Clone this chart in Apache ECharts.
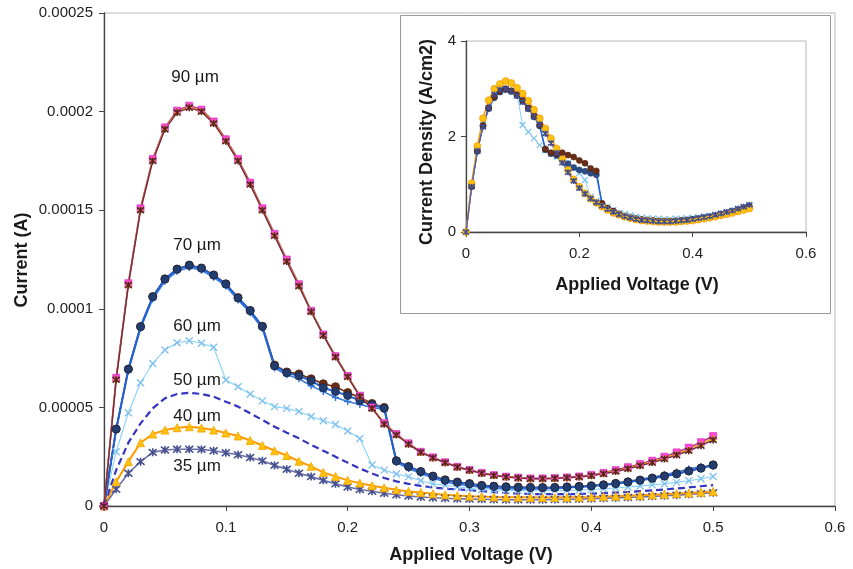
<!DOCTYPE html>
<html>
<head>
<meta charset="utf-8">
<script src="https://cdn.jsdelivr.net/npm/echarts/dist/echarts.min.js"></script>
<style>
html,body{margin:0;padding:0;background:#fff;}
#chart{width:853px;height:569px;}
</style>
</head>
<body>
<div id="chart"></div>
<script>
// ---------- data ----------
const volts = [0,0.01,0.02,0.03,0.04,0.05,0.06,0.07,0.08,0.09,0.10,0.11,0.12,0.13,0.14,0.15,0.16,0.17,0.18,0.19,0.20,0.21,0.22,0.23,0.24,0.25,0.26,0.27,0.28,0.29,0.30,0.31,0.32,0.33,0.34,0.35,0.36,0.37,0.38,0.39,0.40,0.41,0.42,0.43,0.44,0.45,0.46,0.47,0.48,0.49,0.50];

// main chart currents, in units of 1e-5 A
const i90a = [0,6.5,11.3,15.1,17.6,19.2,20.05,20.3,20.1,19.5,18.6,17.6,16.4,15.1,13.8,12.5,11.25,9.9,8.7,7.6,6.6,5.6,5.0,4.2,3.65,3.18,2.75,2.47,2.22,1.99,1.83,1.68,1.57,1.49,1.44,1.40,1.40,1.42,1.45,1.50,1.58,1.68,1.82,1.97,2.13,2.30,2.50,2.72,2.96,3.24,3.55];
const i90b = [0,6.4,11.2,15.0,17.5,19.1,19.95,20.2,20.0,19.4,18.5,17.5,16.3,15.0,13.7,12.4,11.15,9.85,8.65,7.55,6.55,5.55,4.95,4.15,3.6,3.13,2.72,2.44,2.19,1.97,1.81,1.66,1.55,1.47,1.42,1.38,1.38,1.40,1.43,1.47,1.54,1.63,1.75,1.89,2.04,2.2,2.38,2.58,2.8,3.06,3.35];
const i90c = [0,6.45,11.25,15.05,17.55,19.15,20.0,20.25,20.05,19.45,18.55,17.55,16.35,15.05,13.75,12.45,11.2,9.88,8.68,7.58,6.58,5.58,4.98,4.18,3.62,3.15,2.73,2.45,2.2,1.98,1.82,1.67,1.56,1.48,1.43,1.39,1.39,1.41,1.44,1.49,1.56,1.66,1.79,1.93,2.09,2.25,2.44,2.65,2.88,3.15,3.45];
const i70a = [0,3.9,6.93,9.09,10.6,11.5,12.0,12.2,12.05,11.7,11.25,10.55,9.9,9.1,7.1,6.75,6.6,6.35,6.0,5.8,5.6,5.35,5.15,4.95,2.28,1.99,1.74,1.5,1.3,1.2,1.12,1.03,0.99,0.96,0.94,0.93,0.92,0.93,0.95,0.98,1.01,1.06,1.13,1.21,1.3,1.4,1.51,1.62,1.77,1.91,2.07];
const i70b = [0,3.9,6.95,9.1,10.62,11.52,12.02,12.22,12.07,11.72,11.27,10.57,9.92,9.12,7.15,6.8,6.7,6.45,6.2,6.05,5.75,5.5,5.2,5.0,2.3,2.0,1.75,1.52,1.33,1.22,1.14,1.05,1.01,0.98,0.96,0.95,0.94,0.95,0.97,1.0,1.03,1.08,1.15,1.23,1.32,1.42,1.53,1.64,1.78,1.93,2.09];
const i70c = [0,3.85,6.85,9.0,10.5,11.4,11.9,12.1,11.95,11.6,11.15,10.45,9.8,9.0,7.0,6.65,6.45,6.1,5.8,5.5,5.3,5.15,5.0,4.9,2.2,1.9,1.65,1.42,1.22,1.1,1.02,0.95,0.9,0.88,0.87,0.86,0.87,0.89,0.92,0.96,1.01,1.08,1.16,1.25,1.35,1.46,1.58,1.72,1.87,2.0,2.02];
const i60 = [0,2.75,4.73,6.25,7.23,7.91,8.28,8.38,8.25,8.05,6.39,6.05,5.68,5.33,5.04,4.95,4.79,4.54,4.32,4.13,3.8,3.42,2.08,1.82,1.62,1.49,1.28,1.12,1.06,0.98,0.90,0.84,0.81,0.79,0.78,0.77,0.77,0.78,0.79,0.81,0.84,0.87,0.91,0.96,1.01,1.07,1.13,1.2,1.28,1.38,1.5];
const i50 = [0,1.82,3.21,4.19,4.95,5.46,5.68,5.74,5.68,5.54,5.29,5.04,4.7,4.36,4.02,3.72,3.43,3.1,2.8,2.5,2.2,1.9,1.65,1.42,1.25,1.12,1.02,0.94,0.88,0.84,0.80,0.75,0.70,0.66,0.63,0.61,0.60,0.60,0.60,0.61,0.63,0.65,0.68,0.71,0.75,0.79,0.84,0.89,0.94,1.0,1.06];
const i40 = [0,1.23,2.25,3.21,3.65,3.85,3.97,4.02,3.95,3.85,3.7,3.55,3.32,3.07,2.8,2.56,2.27,2.01,1.7,1.5,1.3,1.16,1.03,0.92,0.82,0.74,0.68,0.62,0.57,0.53,0.5,0.48,0.46,0.45,0.44,0.43,0.43,0.43,0.44,0.45,0.46,0.48,0.5,0.52,0.54,0.57,0.6,0.63,0.66,0.7,0.74];
const i35 = [0,0.85,1.66,2.25,2.72,2.84,2.88,2.88,2.87,2.8,2.7,2.6,2.46,2.29,2.06,1.86,1.66,1.49,1.3,1.13,0.96,0.84,0.75,0.65,0.57,0.51,0.46,0.42,0.39,0.37,0.35,0.34,0.33,0.32,0.32,0.32,0.32,0.33,0.34,0.35,0.37,0.39,0.41,0.43,0.46,0.49,0.52,0.55,0.59,0.63,0.67];

// inset current densities, A/cm2
const dA = [0,1.02,1.8,2.38,2.76,3.0,3.1,3.16,3.12,3.02,2.9,2.75,2.56,2.38,2.17,1.96,1.75,1.52,1.3,1.1,0.95,0.81,0.7,0.61,0.53,0.46,0.4,0.36,0.32,0.29,0.26,0.24,0.23,0.22,0.21,0.21,0.21,0.21,0.22,0.23,0.24,0.26,0.28,0.3,0.32,0.35,0.37,0.4,0.43,0.46,0.49];
const dB = [0,0.95,1.7,2.2,2.6,2.88,2.98,3.0,2.95,2.85,2.72,2.58,2.42,2.25,2.06,1.86,1.66,1.45,1.25,1.07,0.92,0.8,0.7,0.62,0.55,0.48,0.42,0.37,0.33,0.3,0.27,0.25,0.24,0.23,0.22,0.22,0.22,0.23,0.24,0.25,0.27,0.29,0.31,0.33,0.36,0.39,0.42,0.45,0.49,0.53,0.57];
const dC = [0,0.98,1.7,2.25,2.6,2.85,2.98,3.0,2.95,2.88,2.24,2.1,1.96,1.82,1.71,1.64,1.57,1.5,1.44,1.33,1.23,1.09,0.74,0.65,0.58,0.53,0.46,0.4,0.38,0.35,0.32,0.3,0.29,0.28,0.28,0.27,0.27,0.28,0.28,0.29,0.3,0.31,0.33,0.34,0.36,0.38,0.4,0.43,0.46,0.49,0.54];
const dD = [0,0.96,1.7,2.23,2.6,2.83,2.95,3.0,2.96,2.88,2.76,2.6,2.43,2.24,1.74,1.66,1.64,1.66,1.61,1.57,1.5,1.44,1.33,1.28,0.6,0.5,0.44,0.38,0.33,0.3,0.28,0.26,0.25,0.24,0.23,0.23,0.23,0.23,0.24,0.25,0.26,0.27,0.29,0.31,0.33,0.35,0.38,0.41,0.44,0.48,0.52];
const dE = [0,0.95,1.69,2.22,2.58,2.81,2.93,2.98,2.94,2.86,2.74,2.58,2.41,2.22,1.72,1.64,1.6,1.5,1.43,1.35,1.3,1.27,1.23,1.2,0.58,0.49,0.43,0.37,0.32,0.29,0.27,0.25,0.24,0.23,0.22,0.22,0.22,0.23,0.24,0.25,0.26,0.28,0.3,0.32,0.34,0.37,0.4,0.43,0.46,0.5,0.54];

const xTicks = ['0','0.1','0.2','0.3','0.4','0.5','0.6'];
const yTicks = ['0','0.00005','0.0001','0.00015','0.0002','0.00025'];
const insetXTicks = ['0','0.2','0.4','0.6'];
const insetYTicks = ['0','2','4'];
const curveLabels = ['90 µm','70 µm','60 µm','50 µm','40 µm','35 µm'];

// ---------- chart ----------
const FONT = '"Liberation Sans", Arial, sans-serif';
const X_PATH = 'path://M0,0L10,10M10,0L0,10';
const STAR_PATH = 'path://M0,0L10,10M10,0L0,10M5,-1L5,11';
const PLUS_PATH = 'path://M5,0L5,10M0,5L10,5';

function pairs(ys){ return volts.map((v,i)=>[v, ys[i]]); }

function mainLine(name, ys, o){
  return {
    type:'line', name:name, data:pairs(ys), xAxisIndex:0, yAxisIndex:0,
    symbol:o.symbol||'none', symbolSize:o.size||7, showSymbol:!!o.symbol,
    lineStyle:{color:o.line, width:o.width||1.6, type:o.type||'solid'},
    itemStyle:{color:o.fill||o.line, borderColor:o.border||o.fill||o.line, borderWidth:o.bw==null?1:o.bw},
    z:o.z||2, animation:false, silent:true
  };
}
function insetLine(name, ys, o){
  return {
    type:'line', name:name, data:pairs(ys), xAxisIndex:1, yAxisIndex:1,
    symbol:o.symbol||'none', symbolSize:o.size||6, showSymbol:!!o.symbol,
    lineStyle:{color:o.line, width:o.width||1.3},
    itemStyle:{color:o.fill||o.line, borderColor:o.border||o.fill||o.line, borderWidth:o.bw==null?1:o.bw},
    z:30, animation:false, silent:true
  };
}

const chart = echarts.init(document.getElementById('chart'), null, {renderer:'canvas'});

const labelPos = [[195,77],[197,245],[197,326],[197,380],[197,416],[197,466]];

const option = {
  backgroundColor:'#ffffff',
  animation:false,
  grid:[
    {left:104, top:13, right:18, bottom:63, show:true, borderColor:'#b8b8b8', borderWidth:1, backgroundColor:'transparent'},
    {left:466, top:41, right:47, bottom:337, show:true, borderColor:'#b8b8b8', borderWidth:1, backgroundColor:'#ffffff', z:20}
  ],
  xAxis:[
    {type:'value', gridIndex:0, min:0, max:0.6, interval:0.1,
     axisLine:{show:true, onZero:false, lineStyle:{color:'#444', width:1.3}},
     axisTick:{show:true, inside:false, length:5, lineStyle:{color:'#444'}},
     splitLine:{show:false},
     axisLabel:{color:'#222', fontSize:15, fontFamily:FONT, margin:14,
       formatter:(v)=>xTicks[Math.round(v*10)]}},
    {type:'value', gridIndex:1, min:0, max:0.6, interval:0.2, z:21,
     axisLine:{show:true, onZero:false, lineStyle:{color:'#444', width:1.3}},
     axisTick:{show:true, length:5, lineStyle:{color:'#444'}},
     splitLine:{show:false},
     axisLabel:{color:'#222', fontSize:15, fontFamily:FONT, margin:14,
       formatter:(v)=>insetXTicks[Math.round(v*5)]}}
  ],
  yAxis:[
    {type:'value', gridIndex:0, min:0, max:25, interval:5,
     axisLine:{show:true, onZero:false, lineStyle:{color:'#444', width:1.3}},
     axisTick:{show:true, length:5, lineStyle:{color:'#444'}},
     splitLine:{show:false},
     axisLabel:{color:'#222', fontSize:15, fontFamily:FONT, margin:11,
       formatter:(v)=>yTicks[Math.round(v/5)]}},
    {type:'value', gridIndex:1, min:0, max:4, interval:2, z:21,
     axisLine:{show:true, onZero:false, lineStyle:{color:'#444', width:1.3}},
     axisTick:{show:true, length:5, lineStyle:{color:'#444'}},
     splitLine:{show:false},
     axisLabel:{color:'#222', fontSize:15, fontFamily:FONT, margin:10,
       formatter:(v)=>insetYTicks[Math.round(v/2)]}}
  ],
  graphic:[
    {type:'rect', shape:{x:400.5, y:15.5, width:430, height:298}, style:{fill:'#ffffff', stroke:'#9a9a9a', lineWidth:1}, z:10, silent:true},
    {type:'text', x:22, y:260, rotation:Math.PI/2, z:5,
     style:{text:'Current (A)', font:'bold 18px '+FONT, fill:'#1a1a1a', align:'center', verticalAlign:'middle'}},
    {type:'text', x:471, y:555, z:5,
     style:{text:'Applied Voltage (V)', font:'bold 18px '+FONT, fill:'#1a1a1a', align:'center', verticalAlign:'middle'}},
    {type:'text', x:427, y:142, rotation:Math.PI/2, z:40,
     style:{text:'Current Density (A/cm2)', font:'bold 18px '+FONT, fill:'#1a1a1a', align:'center', verticalAlign:'middle'}},
    {type:'text', x:637, y:285, z:40,
     style:{text:'Applied Voltage (V)', font:'bold 18px '+FONT, fill:'#1a1a1a', align:'center', verticalAlign:'middle'}}
  ].concat(curveLabels.map((t,k)=>({type:'text', x:labelPos[k][0], y:labelPos[k][1], z:5,
     style:{text:t, font:'17px '+FONT, fill:'#1a1a1a', align:'center', verticalAlign:'middle'}}))),
  series:[
    mainLine('35 µm', i35, {line:'#6c70aa', symbol:STAR_PATH, size:8, fill:'none', border:'#45508e', bw:1.6, width:1.6}),
    mainLine('40 µm', i40, {line:'#ff9a00', symbol:'triangle', size:8, fill:'#ffc20e', border:'#f5a300', bw:0.8, width:2}),
    mainLine('50 µm', i50, {line:'#3434c0', type:[7,4], width:2.2}),
    mainLine('60 µm', i60, {line:'#86d2ff', symbol:X_PATH, size:7, fill:'none', border:'#7fbfee', bw:1.3, width:1.1}),
    mainLine('70 µm c', i70c, {line:'#3a7ee0', symbol:PLUS_PATH, size:7, fill:'none', border:'#2e6fd6', bw:1.4, width:1.6}),
    mainLine('70 µm b', i70b, {line:'#6b2a10', symbol:'circle', size:8, fill:'#6b2e14', border:'#4a1e08', bw:0.8, width:1.6}),
    mainLine('70 µm', i70a, {line:'#1f63d8', symbol:'circle', size:8, fill:'#233d6e', border:'#17284a', bw:0.8, width:2}),
    mainLine('90 µm a', i90a, {line:'#b0307f', symbol:'rect', size:7, fill:'#ff44dd', border:'#d52fb8', bw:0.6, width:1.6}),
    mainLine('90 µm c', i90c, {line:'#e6b400', symbol:'triangle', size:6, fill:'#ffd21a', border:'#e6b400', bw:0.6, width:1.4}),
    mainLine('90 µm b', i90b, {line:'#7a2a46', symbol:STAR_PATH, size:7, fill:'none', border:'#5a2222', bw:1.6, width:1.5}),

    insetLine('d60', dC, {line:'#88d0ff', symbol:X_PATH, size:6, fill:'none', border:'#7cc4f2', bw:1.2, width:1}),
    insetLine('d70b', dE, {line:'#2f74dc', symbol:'circle', size:6, fill:'#2b4e8a', border:'#1e3560', bw:0.6}),
    insetLine('d70', dD, {line:'#1f63d8', symbol:'circle', size:6, fill:'#6b2e14', border:'#4a1e08', bw:0.6}),
    insetLine('dA', dA, {line:'#ff9a00', symbol:'circle', size:7, fill:'#ffc20e', border:'#f09000', bw:0.6, width:1.6}),
    insetLine('dB', dB, {line:'#5a64a8', symbol:STAR_PATH, size:6, fill:'none', border:'#414c8e', bw:1.5, width:1.3})
  ]
};
chart.setOption(option);
</script>
</body>
</html>
